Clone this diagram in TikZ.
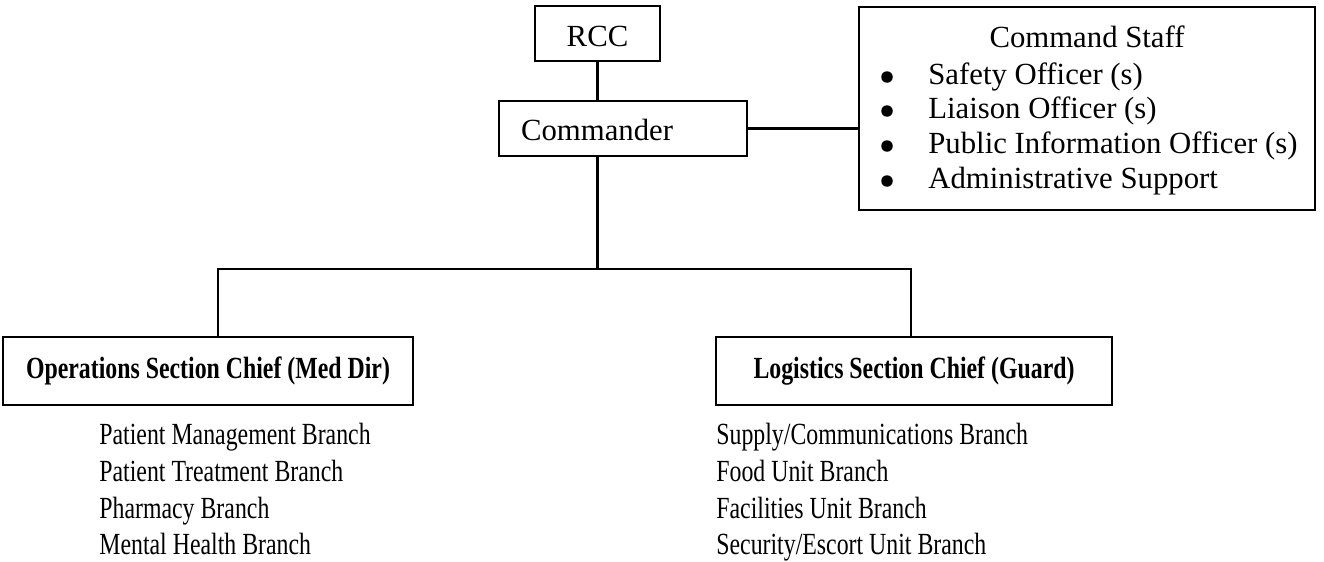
\documentclass[tikz,border=0pt]{standalone}
\usepackage{fontspec}
\setmainfont{Liberation Serif}
\newfontfamily\narrowfont[FakeStretch=0.775]{Liberation Serif}

\begin{document}
\begin{tikzpicture}[x=0.02cm,y=-0.02cm,font=\fontsize{17.5}{21}\selectfont]
    \useasboundingbox (0,0) rectangle (1324,561);

    \begin{scope}[every node/.style={rectangle,draw,line width=1.3pt,inner sep=0pt,text depth=0cm}]
      \node[minimum width=2.5cm,minimum height=1.1cm,text height=0.54cm] (rcc) at (597.5,33.5) {RCC};
      \node[minimum width=4.96cm,minimum height=1.1cm,text height=0.5cm,
            text width=4.08cm,inner xsep=0.44cm,align=left] (cmd) at (623,128.5) {Commander};
      \node[minimum width=9.12cm,minimum height=4.06cm] (staff) at (1087,108.5) {};
      \node[minimum width=8.2cm,minimum height=1.36cm,text height=0.28cm] (ops) at (208,371)
        {\narrowfont\bfseries Operations Section Chief (Med Dir)};
      \node[minimum width=7.92cm,minimum height=1.36cm,text height=0.28cm] (log) at (914,371)
        {\narrowfont\bfseries Logistics Section Chief (Guard)};
    \end{scope}

    \begin{scope}[every node/.style={circle,fill=black,inner sep=0pt,minimum size=0.23cm}]
      \node (dot1) at (887,77) {};
      \node (dot2) at (887,111) {};
      \node (dot3) at (887,146) {};
      \node (dot4) at (887,181) {};
    \end{scope}

    \begin{scope}[every node/.style={anchor=base west,inner sep=0pt}]
      \node[anchor=base] (stafftitle) at (1087,47) {Command Staff};
      \node (safety) at (928,84) {Safety Officer (s)};
      \node (liaison) at (928,118) {Liaison Officer (s)};
      \node (pio) at (928,153) {Public Information Officer (s)};
      \node (admin) at (928,188) {Administrative Support};
    \end{scope}

    \begin{scope}[every node/.style={anchor=base west,inner sep=0pt,font=\fontsize{17.5}{21}\narrowfont}]
      \node (patmgmt) at (99,444) {Patient Management Branch};
      \node (pattreat) at (99,481) {Patient Treatment Branch};
      \node (pharm) at (99,518) {Pharmacy Branch};
      \node (mental) at (99,554) {Mental Health Branch};
      \node (supply) at (716,444) {Supply/Communications Branch};
      \node (food) at (716,481) {Food Unit Branch};
      \node (facil) at (716,518) {Facilities Unit Branch};
      \node (secur) at (716,554) {Security/Escort Unit Branch};
    \end{scope}

    \coordinate (bar) at (597.5,269);
    \coordinate (barL) at (218,269);
    \coordinate (barR) at (911,269);

    \begin{scope}[every edge/.style={draw=black,line width=1.3pt}]
      \path (rcc.south) edge (rcc.south |- cmd.north);
      \path (cmd.east) edge (cmd.east -| staff.west);
      \path (rcc.south |- cmd.south) edge (bar);
    \end{scope}
    \draw[line width=1.3pt] (ops.north -| barL) -- (barL) -- (barR) -- (log.north -| barR);
\end{tikzpicture}
\end{document}
